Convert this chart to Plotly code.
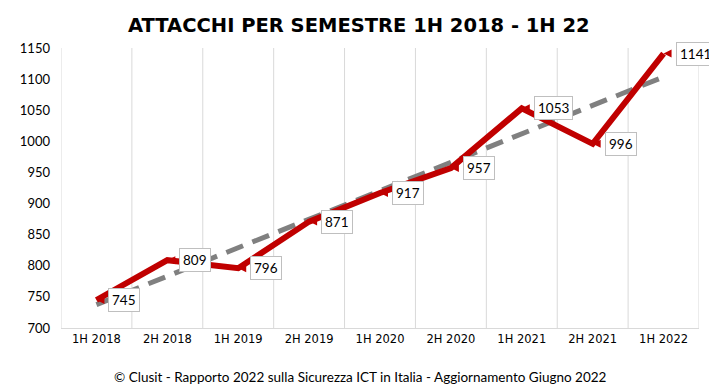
import numpy as np
import plotly.graph_objects as go

categories = ["1H 2018", "2H 2018", "1H 2019", "2H 2019", "1H 2020",
              "2H 2020", "1H 2021", "2H 2021", "1H 2022"]
attacks = [745, 809, 796, 871, 917, 957, 1053, 996, 1141]
y_ticks = [700, 750, 800, 850, 900, 950, 1000, 1050, 1100, 1150]

title_text = "ATTACCHI PER SEMESTRE 1H 2018 - 1H 22"
footer_text = "© Clusit - Rapporto 2022 sulla Sicurezza ICT in Italia - Aggiornamento Giugno 2022"

idx = np.arange(len(attacks))
slope, intercept = np.polyfit(idx, attacks, 1)
trend = slope * idx + intercept

# page has an 8px body margin; figure placed at (8, 8)
OFF = 8
PL, PW, PH, PB = 59, 640, 280, 328  # plot left, width, height, bottom (screen px)


def py(pix):
    return (PB - pix) / PH


def px(pix):
    return (pix - PL) / PW


fig = go.Figure()
fig.add_trace(go.Scatter(
    x=categories, y=trend, mode="lines",
    line=dict(color="#808080", width=5, dash="18px,10px"),
    hoverinfo="skip", showlegend=False))
fig.add_trace(go.Scatter(
    x=categories, y=attacks, mode="lines+markers",
    line=dict(color="#C00000", width=6),
    marker=dict(symbol="arrow-bar-left", size=8, color="#C00000"),
    showlegend=False))

for c, v in zip(categories, attacks):
    fig.add_annotation(
        x=c, y=v, text=str(v), showarrow=False,
        xanchor="left", yanchor="middle", xshift=12,
        font=dict(family="Lato, Open Sans, sans-serif", size=13.5, color="#000000"),
        bgcolor="#FFFFFF", bordercolor="#BFBFBF", borderwidth=1, borderpad=3)

fig.add_annotation(
    x=px(358), y=py(25), xref="paper", yref="paper", yanchor="middle",
    text="<b>" + title_text + "</b>", showarrow=False,
    font=dict(family="DejaVu Sans, sans-serif", size=19.5, color="#000000"))
fig.add_annotation(
    x=px(359), y=py(377), xref="paper", yref="paper", yanchor="middle",
    text=footer_text, showarrow=False,
    font=dict(family="Lato, Open Sans, sans-serif", size=13.5, color="#000000"))

# outer frame (right edge)
fig.add_shape(type="line", xref="paper", yref="paper",
              x0=px(715), x1=px(715), y0=py(386), y1=py(8),
              line=dict(color="#D9D9D9", width=1), layer="below")

fig.update_layout(
    width=717 - OFF, height=388 - OFF,
    margin=dict(l=PL - OFF, r=18, t=48 - OFF, b=388 - OFF - (PB - OFF)),
    paper_bgcolor="#FFFFFF", plot_bgcolor="#FFFFFF",
    font=dict(family="Lato, Open Sans, sans-serif", color="#000000"),
    xaxis=dict(
        type="category", showgrid=False,
        showline=True, linecolor="#D9D9D9", linewidth=1,
        ticks="", tickfont=dict(family="DejaVu Sans, sans-serif", size=11.5, color="#000000"),
        range=[-0.5, len(categories) - 0.5], fixedrange=True),
    yaxis=dict(
        range=[700, 1150], tickvals=y_ticks, showgrid=False, zeroline=False,
        showline=False, ticks="", tickfont=dict(size=13, color="#000000"),
        ticklabelstandoff=10, fixedrange=True),
)

# vertical category boundary gridlines
for i in range(len(categories) + 1):
    fig.add_shape(type="line", xref="x", yref="y",
                  x0=i - 0.5, x1=i - 0.5, y0=700, y1=1150,
                  line=dict(color="#D9D9D9", width=1), layer="below")

fig.write_html("out.html")
